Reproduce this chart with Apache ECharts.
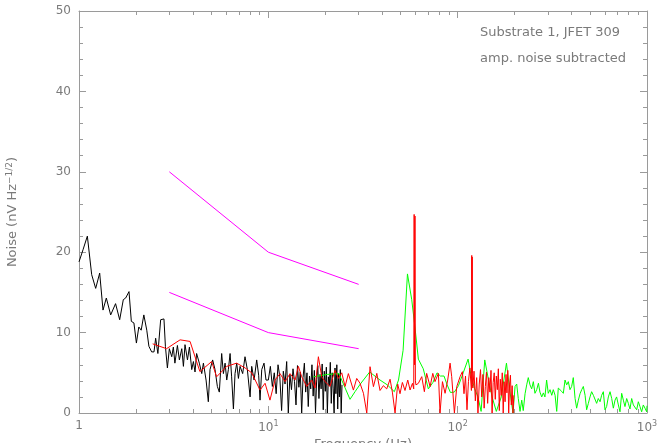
<!DOCTYPE html>
<html><head><meta charset="utf-8">
<script src="https://cdn.jsdelivr.net/npm/echarts@6/dist/echarts.min.js"></script>
<style>html,body{margin:0;padding:0;background:#fff}#c{width:658px;height:443px}</style>
</head><body><div id="c"></div>
<script>
// ---- data ----
const blackFreq = [1.00,1.05,1.107,1.167,1.225,1.286,1.339,1.394,1.47,1.56,1.64,1.714,1.764,1.837,1.89,1.95,2.01,2.07,2.13,2.20,2.28,2.34,2.42,2.49,2.54,2.61,2.70,2.81,2.86,2.93,3.00,3.09,3.15,3.21,3.31,3.39,3.49,3.56,3.63,3.74,3.83,3.94,4.02,4.10,4.18,4.32,4.45,4.54,4.69,4.82,4.92,5.08,5.23,5.38,5.51,5.67,5.79,5.91,6.03,6.15,6.28,6.40,6.54,6.67,6.81,6.95,7.09,7.32,7.53,7.75,8.01,8.17,8.41,8.68,8.89,9.04,9.23,9.49,9.72,
 10.0,10.25,10.5,10.75,11.0,11.25,11.5,11.75,12.0,12.25,12.5,12.75,13.0,13.25,13.5,13.75,14.0,14.25,14.5,14.75,15.0,15.25,15.5,15.75,16.0,16.25,16.5,16.75,17.0,17.25,17.5,17.75,18.0,18.25,18.5,18.75,19.0,19.25,19.5,19.75,20.0,20.25,20.5,20.75,21.0,21.25,21.5,21.75,22.0,22.25,22.5,22.75,23.0,23.25,23.5,23.75,24.0,24.25,24.5];
const blackNoise = [18.8,20.3,22.0,17.2,15.5,17.4,12.8,14.3,12.2,13.6,11.6,14.1,14.3,15.1,11.4,11.2,8.7,10.7,10.3,12.2,10.3,8.3,7.6,7.6,9.3,7.4,11.6,11.7,8.3,5.6,8.0,7.0,8.2,6.2,8.4,6.6,8.0,5.8,8.5,6.6,8.2,5.4,6.4,5.1,7.4,6.2,4.9,6.2,4.1,1.4,5.4,6.6,5.4,3.3,2.6,7.4,4.9,6.2,4.1,5.4,7.4,4.5,0.5,4.9,6.2,4.3,5.8,4.9,7.0,5.4,2.0,5.8,4.1,6.6,4.7,1.6,5.4,6.2,4.1,
 4.1,5.8,3.3,5.0,2.4,6.0,4.5,0.3,5.2,3.6,6.4,0.0,4.8,2.9,5.5,3.9,1.0,5.9,3.2,5.1,0.0,4.4,6.2,2.6,5.0,0.8,4.6,3.0,6.0,2.1,5.3,0.0,4.2,5.9,1.8,4.8,3.0,6.1,0.4,5.2,2.7,5.7,0.0,4.5,3.4,6.3,1.2,5.0,3.1,0.0,5.6,2.4,6.0,0.5,4.9,2.0,5.4,0.0,3.5];

const redFreq = [2.45,2.90,3.42,3.86,4.35,5.02,5.33,6.03,6.80,7.54,8.17,9.04,9.61,10.2,10.85,11.53,12.25,13.02,13.84,14.41,15.01,15.95,16.95,17.65,18.38,19.14,19.93,21.18,22.5,23.44,24.42,25.43,26.47,28.13,29.3,30.5,31.8,33.1,34.45,35.9,37.4,38.9,40.5,42.2,43.95,45.2,46.7,48.2,49.6,51.05,52.7,54.5,56.05,57.7,58.6,58.9,59.2,59.5,59.8,60.2,62.0,64.6,66.7,68.6,71.5,73.9,75.9,79.1,80.7,83.1,85.8,88.6,91.2,93.0,96.1,98.9,103,105.9,
 108,110,112,114,116,118.2,118.7,119.0,119.3,119.7,120.3,122,124,126,128,130,132,134,136,138,140,142,144,146,148,150,152,154,156,158,160,162,164,166,168,170,172,174,176,178,180,182,184,186,188,190,192,194,196,198];
const redNoise = [8.6,8.0,9.1,8.9,5.15,6.4,4.5,5.8,6.2,5.6,5.0,2.85,3.7,1.6,4.1,4.9,3.9,4.9,4.1,5.8,4.5,3.3,4.1,3.1,7.0,4.5,3.9,3.3,5.3,4.3,5.0,3.3,4.9,2.85,4.3,3.7,2.45,0.0,5.76,3.28,4.93,2.8,3.4,3.0,4.2,2.6,0.0,3.6,2.4,3.8,2.8,4.1,2.86,3.69,3.0,24.7,6.0,24.5,4.0,3.5,3.69,4.52,2.65,4.93,3.28,4.93,3.9,4.93,0.0,3.9,2.45,4.1,6.2,4.52,0.0,3.28,4.52,5.14,
 2.4,4.6,0.4,3.9,5.6,2.8,19.6,5.0,19.4,3.5,3.1,5.2,1.5,4.4,0.0,3.6,5.4,2.0,4.8,0.6,3.3,5.1,1.2,4.4,2.6,5.3,0.0,3.8,5.0,1.7,4.6,2.9,5.5,0.3,4.2,2.2,5.0,0.0,3.9,1.4,4.8,2.5,5.3,0.0,3.6,4.7,1.0,3.4,0.0,2.2];

const greenFreq = [17.3,20.5,23.6,27.0,28.7,30.6,34.3,38.9,42.5,46.3,48.7,51.5,54.3,57.2,59.4,62,65.8,70,74,77.8,81,84.7,88,91.6,96,101,107,113.5,118,123,128,133,139,145,152,160,170,181,188,196,
 201,205,209,213.5,218,222,227,231.5,236,241,246,251,256,261.5,267,272,278,283.5,289,295,301,307.5,314,320,327,333.5,340,347,354,361.5,
 369,376.5,384,392,400,408,417,425,434,443,452,461,471,480,490,500,510,521,531,542,553,565,576,588,600,612,625,638,651,664,
 678,691,706,720,735,750,765,781,797,813,830,847,864,882,900,918,937,956,976,996,1000];
const greenNoise = [4.5,4.8,4.9,1.7,2.65,3.6,5.1,4.1,3.5,2.65,4.1,7.8,17.3,14.1,10.8,6.7,5.5,3.0,3.8,5.0,4.6,4.6,3.5,2.55,2.6,3.4,5.0,6.7,4.5,3.0,2.0,0.2,6.6,4.3,2.0,0.2,2.0,6.2,3.0,0.0,
 3.3,3.6,1.8,0.2,1.6,0.3,2.4,3.5,4.4,3.5,3.0,3.9,2.45,2.9,3.7,2.6,2.0,2.5,2.0,4.1,2.45,2.9,2.2,2.9,2.2,0.2,3.1,3.3,2.7,2.45,
 4.1,3.5,3.9,2.9,3.3,4.4,1.8,0.6,1.6,2.4,2.9,3.3,2.2,0.4,1.2,2.0,2.65,2.2,2.2,1.2,1.8,1.4,2.2,2.65,0.4,0.8,2.0,2.65,1.8,0.6,
 1.6,2.0,1.0,0.15,2.45,1.6,0.8,1.8,1.2,0.5,1.8,1.0,1.2,0.4,1.4,0.8,0.15,1.0,0.6,0.15,0.9];

const magFreq = [3, 10, 30];
const magUpper = [30, 20, 16];
const magLower = [15, 10, 8];

const xMajorTicks = [1, 10, 100, 1000];
const xMinorTicks = [2,3,4,5,6,7,8,9,20,30,40,50,60,70,80,90,200,300,400,500,600,700,800,900];
const yTicks = [0, 10, 20, 30, 40, 50];
const noteLines = ['Substrate 1, JFET 309', 'amp. noise subtracted'];

// ---- chart ----
const zip = (f, v) => f.map((x, i) => [x, v[i]]);
const textGray = '#7a7a7a', axisGray = '#9a9a9a';
const FONT = 'DejaVu Sans';
const supRich = {
  b: {fontFamily: FONT, fontSize: 12, color: textGray},
  s: {fontFamily: FONT, fontSize: 8, color: textGray, padding: [0, 0, 7, 0]}
};
const xBase = {type: 'log', logBase: 10, min: xMajorTicks[0], max: xMajorTicks[xMajorTicks.length - 1], splitLine: {show: false}, minorTick: {show: false}};
const yBase = {type: 'value', min: yTicks[0], max: yTicks[yTicks.length - 1], interval: yTicks[1] - yTicks[0], splitLine: {show: false}};

const chart = echarts.init(document.getElementById('c'));
chart.setOption({
  animation: false,
  grid: {left: 79, right: 11, top: 11, bottom: 30, containLabel: false, outerBoundsMode: 'none'},
  xAxis: [
    Object.assign({}, xBase, {
      position: 'bottom',
      axisLine: {show: true, lineStyle: {color: axisGray, width: 1}},
      axisTick: {show: true, inside: true, length: 7, lineStyle: {color: axisGray}},
      axisLabel: {
        margin: 7, color: textGray, fontFamily: FONT, fontSize: 12, rich: supRich,
        formatter: v => v === 1 ? '{b|1}' : '{b|10}{s|' + Math.round(Math.log10(v)) + '}'
      },
      name: 'Frequency (Hz)', nameLocation: 'middle', nameGap: 22,
      nameTextStyle: {color: textGray, fontFamily: FONT, fontSize: 13}
    }),
    Object.assign({}, xBase, {
      position: 'bottom',
      axisLine: {show: false},
      axisTick: {show: true, inside: true, length: 4, lineStyle: {color: axisGray}, customValues: xMinorTicks},
      axisLabel: {show: false}
    }),
    Object.assign({}, xBase, {
      position: 'top',
      axisLine: {show: true, lineStyle: {color: axisGray, width: 1}},
      axisTick: {show: true, inside: true, length: 7, lineStyle: {color: axisGray}},
      axisLabel: {show: false}
    }),
    Object.assign({}, xBase, {
      position: 'top',
      axisLine: {show: false},
      axisTick: {show: true, inside: true, length: 4, lineStyle: {color: axisGray}, customValues: xMinorTicks},
      axisLabel: {show: false}
    })
  ],
  yAxis: [
    Object.assign({}, yBase, {
      position: 'left',
      axisLine: {show: true, lineStyle: {color: axisGray, width: 1}},
      axisTick: {show: true, inside: true, length: 7, lineStyle: {color: axisGray}},
      minorTick: {show: true, splitNumber: 5, length: 4, lineStyle: {color: axisGray}},
      axisLabel: {margin: 8, color: textGray, fontFamily: FONT, fontSize: 12},
      name: 'Noise (nV Hz{s|\u22121/2})', nameLocation: 'middle', nameGap: 58, nameRotate: 90,
      nameTextStyle: {color: textGray, fontFamily: FONT, fontSize: 13,
        rich: {s: {fontFamily: FONT, fontSize: 9, color: textGray, padding: [0, 0, 7, 0]}}}
    }),
    Object.assign({}, yBase, {
      position: 'right',
      axisLine: {show: true, lineStyle: {color: axisGray, width: 1}},
      axisTick: {show: true, inside: true, length: 7, lineStyle: {color: axisGray}},
      minorTick: {show: true, splitNumber: 5, length: 4, lineStyle: {color: axisGray}},
      axisLabel: {show: false}
    })
  ],
  series: [
    {type: 'line', name: 'black', data: zip(blackFreq, blackNoise), showSymbol: false, silent: true,
     lineStyle: {color: '#000000', width: 1}},
    {type: 'line', name: 'green', data: zip(greenFreq, greenNoise), showSymbol: false, silent: true,
     lineStyle: {color: '#00ff00', width: 1}},
    {type: 'line', name: 'red', data: zip(redFreq, redNoise), showSymbol: false, silent: true,
     lineStyle: {color: '#ff0000', width: 1}},
    {type: 'line', name: 'upper', data: zip(magFreq, magUpper), showSymbol: false, silent: true,
     lineStyle: {color: '#ff00ff', width: 1}},
    {type: 'line', name: 'lower', data: zip(magFreq, magLower), showSymbol: false, silent: true,
     lineStyle: {color: '#ff00ff', width: 1}}
  ],
  graphic: noteLines.map((t, i) => ({
    type: 'text', left: 480, top: 26 + i * 26,
    style: {text: t, fill: textGray, font: '13px "DejaVu Sans"'}
  }))
});
</script></body></html>
